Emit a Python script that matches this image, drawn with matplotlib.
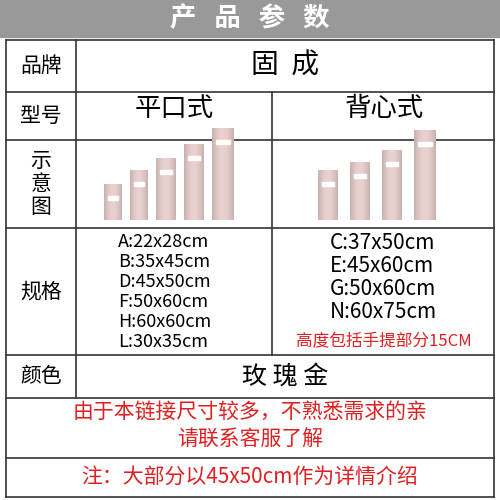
import matplotlib.pyplot as plt
from matplotlib.patches import Rectangle
import numpy as np

plt.rcParams['font.family'] = ['Noto Sans CJK SC', 'DejaVu Sans']

title = "产   品   参   数"
row_names = ["品牌", "型号", "示\n意\n图", "规格", "颜色"]
brand = "固  成"
types = ["平口式", "背心式"]
specs_flat = ["A:22x28cm", "B:35x45cm", "D:45x50cm", "F:50x60cm", "H:60x60cm", "L:30x35cm"]
specs_vest = ["C:37x50cm", "E:45x60cm", "G:50x60cm", "N:60x75cm"]
vest_note = "高度包括手提部分15CM"
color_name = "玫 瑰 金"
notice = ["由于本链接尺寸较多，不熟悉需求的亲", "请联系客服了解"]
footer = "注：大部分以45x50cm作为详情介绍"

# cylinder sizes in the sketch (width, height) in px
flat_w = [18, 18, 20, 20, 22]
flat_h = [36, 50, 62, 76, 92]
vest_w = [20, 20, 20, 22]
vest_h = [50, 58, 70, 90]

fig = plt.figure(figsize=(5, 5), dpi=100)
ax = fig.add_axes([0, 0, 1, 1])
ax.set_xlim(0, 500)
ax.set_ylim(500, 0)
ax.axis('off')

ax.add_patch(Rectangle((0, 0), 500, 37, color='#999999'))
ax.text(250, 18, title, color='white', fontsize=19, ha='center', va='center', fontweight='bold')

rows = [40, 92, 140, 228, 355, 398]
left, mid, right = 6, 76, 494
lc = '#333333'
for y in rows + [458]:
    ax.plot([left, right], [y, y], color=lc, lw=1.2)
ax.plot([left, right], [497, 497], color=lc, lw=1.2)
for x in [left, right]:
    ax.plot([x, x], [40, 497], color=lc, lw=1.2)
ax.plot([mid, mid], [40, 398], color=lc, lw=1.2)
ax.plot([272, 272], [92, 355], color=lc, lw=1.2)

for i, name in enumerate(row_names):
    ax.text(41, (rows[i] + rows[i + 1]) / 2, name, fontsize=15, ha='center', va='center',
            linespacing=1.05)

ax.text(285, 66, brand, fontsize=20, ha='center', va='center')
ax.text(174, 108, types[0], fontsize=19, ha='center', va='center')
ax.text(384, 108, types[1], fontsize=19, ha='center', va='center')

def cylinders(x0, ws, hs, base, gap):
    x = x0
    for w, h in zip(ws, hs):
        grad = np.linspace(0, 1, 30)
        img = np.array([[0.80 + 0.14 * np.sin(np.pi * g) for g in grad]])
        rgb = np.stack([img * 0.98, img * 0.87, img * 0.86], axis=-1)
        ax.imshow(rgb, extent=(x, x + w, base, base - h), aspect='auto', zorder=2)
        ax.add_patch(Rectangle((x + 4, base - h + 12), w - 8, 4, color='white', zorder=3))
        x += w + gap

cylinders(104, flat_w, flat_h, 220, 8)
cylinders(318, vest_w, vest_h, 220, 12)

for i, s in enumerate(specs_flat):
    ax.text(118, 242 + i * 20, s, fontsize=13, ha='left', va='center')
for i, s in enumerate(specs_vest):
    ax.text(330, 243 + i * 23, s, fontsize=15, ha='left', va='center')
ax.text(384, 342, vest_note, fontsize=12, color='#e02020', ha='center', va='center')

ax.text(285, 377, color_name, fontsize=18, ha='center', va='center')
ax.text(250, 412, notice[0], fontsize=15, color='#e02020', ha='center', va='center')
ax.text(250, 440, notice[1], fontsize=15, color='#e02020', ha='center', va='center')
ax.text(250, 477, footer, fontsize=15, color='#e02020', ha='center', va='center')

fig.savefig('out.png', dpi=100)
